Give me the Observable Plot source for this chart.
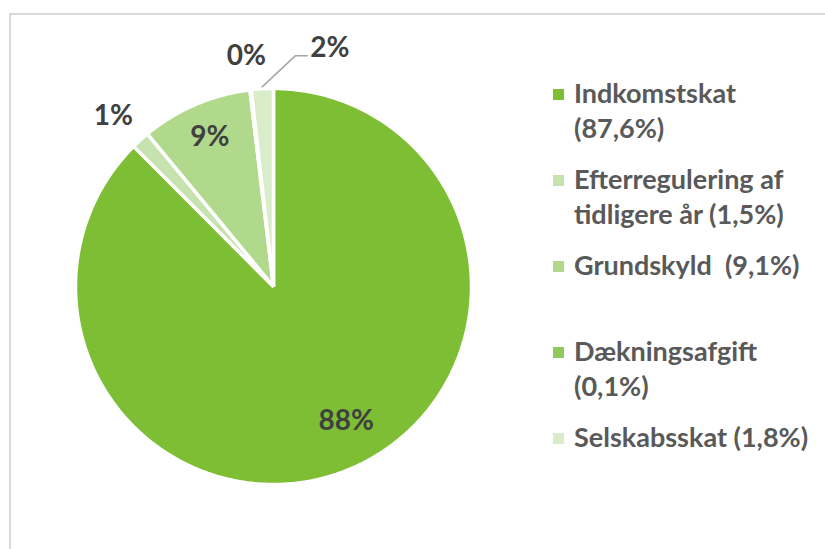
<!DOCTYPE html>
<html>
<head>
<meta charset="utf-8">
<script src="https://cdn.jsdelivr.net/npm/d3@7"></script>
<script src="https://cdn.jsdelivr.net/npm/@observablehq/plot@0.6"></script>
<style>
  html, body { margin: 0; padding: 0; background: #fff; }
  #wrap { position: relative; width: 825px; height: 549px; overflow: hidden; font-family: Lato, "Open Sans", sans-serif; }
  #frame { position: absolute; left: 9px; top: 13px; width: 830px; height: 560px; border: 2px solid #d9d9d9; box-sizing: border-box; }
  #chart { position: absolute; left: 0; top: 0; }
  #legend { position: absolute; left: 553px; top: 75px; }
  .item { position: relative; height: 86px; }
  .sw { position: absolute; left: 0; top: 14px; width: 11px; height: 11px; }
  .txt { position: absolute; left: 21px; top: 0; font-size: 27px; line-height: 35px; font-weight: 700; color: #595959; white-space: pre; }
</style>
</head>
<body>
<div id="wrap">
  <div id="frame"></div>
  <div id="chart"></div>
  <div id="legend"></div>
</div>
<script>
// ---- data ----
const categories = ["Indkomstskat", "Efterregulering af tidligere år", "Grundskyld", "Dækningsafgift", "Selskabsskat"];
const shares = [87.6, 1.5, 9.1, 0.1, 1.8];
const sliceLabels = ["88%", "1%", "9%", "0%", "2%"];
const legendLabels = [
  ["Indkomstskat", "(87,6%)"],
  ["Efterregulering af", "tidligere år (1,5%)"],
  ["Grundskyld  (9,1%)"],
  ["Dækningsafgift", "(0,1%)"],
  ["Selskabsskat (1,8%)"]
];
const colors = ["#7dbe34", "#c6e2ae", "#b1d98b", "#8fca5a", "#d9edca"];

// ---- layout (label radii relative to pie radius, pixel nudges) ----
const labelRadius = [0.775, 1.18, 0.83, 1.18, 1.0];
const labelDx = [14, -3, 1, 0, 0];
const labelDy = [-7, 2, 2, 2, 0];
const R = 198; // pixel radius, used only to convert pixel nudges

// ---- geometry derived from data ----
const arcs = d3.pie().sort(null).value(d => d.share)(categories.map((c, i) => ({cat: c, share: shares[i], i})));
const polar = (a, r) => ({x: r * Math.sin(a), y: r * Math.cos(a)});

const polyPts = [];
arcs.forEach(a => {
  const n = Math.max(2, Math.ceil((a.endAngle - a.startAngle) / 0.01));
  polyPts.push({cat: a.data.cat, ...polar(0, 0)});
  for (let k = 0; k <= n; k++) {
    const t = a.startAngle + (a.endAngle - a.startAngle) * k / n;
    polyPts.push({cat: a.data.cat, ...polar(t, 1)});
  }
});

const labelPts = arcs.map((a, i) => {
  const mid = (a.startAngle + a.endAngle) / 2;
  const p = polar(mid, labelRadius[i]);
  return {text: sliceLabels[i], i, x: p.x + labelDx[i] / R, y: p.y - labelDy[i] / R};
});

// leader line for the last (2%) label
const last = arcs[arcs.length - 1];
const lastMid = (last.startAngle + last.endAngle) / 2;
const p0 = polar(lastMid, 1.01);
const elbow = {x: p0.x + 33 / R, y: p0.y + 31 / R};
const pend = {x: elbow.x + 12 / R, y: elbow.y};
const leader = [p0, elbow, pend];
const inner = labelPts.slice(0, labelPts.length - 1);
const outerLabel = [{text: sliceLabels[sliceLabels.length - 1], x: pend.x + 3 / R, y: pend.y + 8 / R}];

const chart = Plot.plot({
  width: 825,
  height: 549,
  margin: 0,
  x: {domain: [-1, 1], range: [75, 471], axis: null},
  y: {domain: [-1, 1], range: [484, 88], axis: null},
  color: {domain: categories, range: colors},
  style: {background: "transparent"},
  marks: [
    Plot.line(polyPts, {x: "x", y: "y", z: "cat", fill: "cat", stroke: "#ffffff", strokeWidth: 3.5, strokeLinejoin: "miter", curve: "linear-closed"}),
    Plot.line(leader, {x: "x", y: "y", stroke: "#a6a6a6", strokeWidth: 1.5}),
    Plot.text(inner, {x: "x", y: "y", text: "text", fontSize: 28, fontWeight: 700, fill: "#404040", fontFamily: "Lato", textAnchor: "middle"}),
    Plot.text(outerLabel, {x: "x", y: "y", text: "text", fontSize: 28, fontWeight: 700, fill: "#404040", fontFamily: "Lato", textAnchor: "start"})
  ]
});
document.getElementById("chart").appendChild(chart);

// ---- legend ----
const colorScale = chart.scale("color");
const leg = document.getElementById("legend");
categories.forEach((c, i) => {
  const item = document.createElement("div");
  item.className = "item";
  const sw = document.createElement("div");
  sw.className = "sw";
  sw.style.background = colorScale.apply(c);
  const t = document.createElement("div");
  t.className = "txt";
  t.textContent = legendLabels[i].join("\n");
  item.appendChild(sw);
  item.appendChild(t);
  leg.appendChild(item);
});
</script>
</body>
</html>
